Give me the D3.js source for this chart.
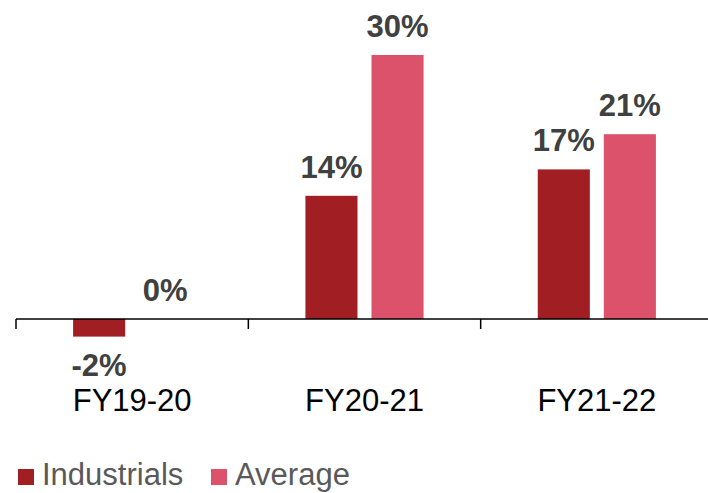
<!DOCTYPE html>
<html>
<head>
<meta charset="utf-8">
<script src="https://cdn.jsdelivr.net/npm/d3@7"></script>
<style>
  body { margin: 0; background: #fff; }
  svg { display: block; font-family: Arial, "Liberation Sans", sans-serif; }
</style>
</head>
<body>
<div id="chart"></div>
<script>
var categories = ["FY19-20", "FY20-21", "FY21-22"];
var series = ["Industrials", "Average"];
var industrials = [-2, 14, 17];
var average = [0, 30, 21];
var colors = ["#A11F22", "#DC526A"];

var width = 708, height = 493;
var svg = d3.select("#chart").append("svg")
	.attr("width", width)
	.attr("height", height);

var x0 = d3.scaleBand().domain(categories).range([16, 713]);
var x1 = d3.scaleBand().domain(series).range([0, x0.bandwidth()])
	.paddingInner(0.212).paddingOuter(0.864);
var y = d3.scaleLinear().domain([0, 30]).range([319, 55]);

var rows = categories.map(function(c, i) {
	return {cat: c, vals: [
		{s: series[0], v: industrials[i]},
		{s: series[1], v: average[i]}
	]};
});

var groups = svg.selectAll(".grp")
	.data(rows)
	.enter().append("g")
	.attr("class", "grp")
	.attr("transform", function(d) { return "translate(" + x0(d.cat) + ",0)"; });

groups.selectAll("rect")
	.data(function(d) { return d.vals; })
	.enter().append("rect")
	.attr("x", function(d) { return x1(d.s); })
	.attr("y", function(d) { return y(Math.max(0, d.v)); })
	.attr("width", x1.bandwidth())
	.attr("height", function(d) { return Math.abs(y(d.v) - y(0)); })
	.attr("fill", function(d, i) { return colors[i]; });

groups.selectAll(".lbl")
	.data(function(d) { return d.vals; })
	.enter().append("text")
	.attr("class", "lbl")
	.attr("x", function(d) { return x1(d.s) + x1.bandwidth() / 2; })
	.attr("y", function(d) { return d.v < 0 ? y(d.v) + 39 : y(d.v) - 18; })
	.attr("text-anchor", "middle")
	.attr("font-size", "31px")
	.attr("font-weight", "bold")
	.attr("fill", "#404040")
	.text(function(d) { return d.v + "%"; });

// axis line at zero
var axis = svg.append("g").attr("transform", "translate(0," + y(0) + ")");
axis.append("line")
	.attr("x1", 16).attr("x2", 713)
	.attr("stroke", "#000").attr("stroke-width", 1.5);
var tickX = categories.map(function(c) { return x0(c); });
tickX.push(x0(categories[categories.length - 1]) + x0.bandwidth());
axis.selectAll(".tick")
	.data(tickX)
	.enter().append("line")
	.attr("x1", function(d) { return d; })
	.attr("x2", function(d) { return d; })
	.attr("y1", 0).attr("y2", 10)
	.attr("stroke", "#000").attr("stroke-width", 1.5);

svg.selectAll(".cat")
	.data(categories)
	.enter().append("text")
	.attr("class", "cat")
	.attr("x", function(d) { return x0(d) + x0.bandwidth() / 2; })
	.attr("y", 411)
	.attr("text-anchor", "middle")
	.attr("font-size", "31px")
	.attr("fill", "#000")
	.text(function(d) { return d; });

// legend
var legendX = [18, 211];
var legend = svg.selectAll(".leg")
	.data(series)
	.enter().append("g")
	.attr("class", "leg")
	.attr("transform", function(d, i) { return "translate(" + legendX[i] + ",469)"; });
legend.append("rect")
	.attr("width", 16).attr("height", 16)
	.attr("fill", function(d, i) { return colors[i]; });
legend.append("text")
	.attr("x", 24).attr("y", 16)
	.attr("font-size", "31px")
	.attr("fill", "#595959")
	.text(function(d) { return d; });
</script>
</body>
</html>
